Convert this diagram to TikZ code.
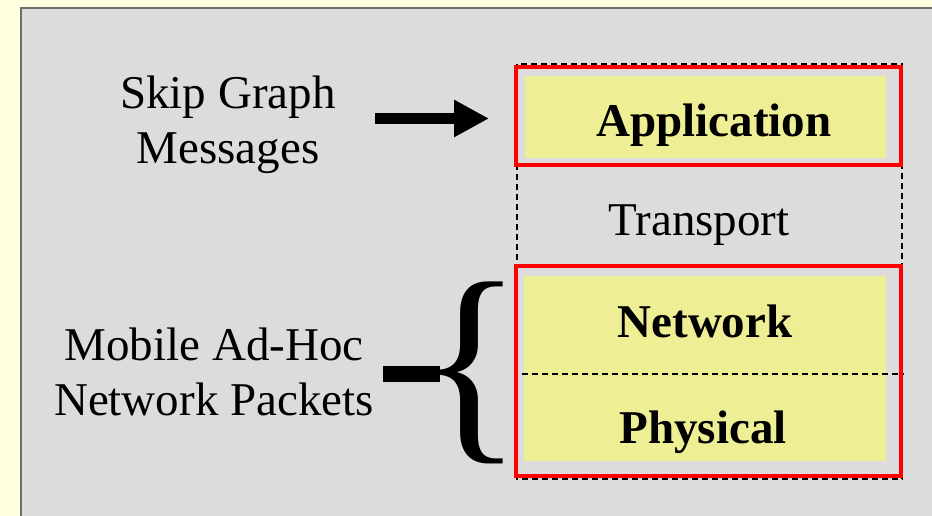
\documentclass[tikz,border=0pt]{standalone}
\usepackage{fontspec}
\setmainfont{Liberation Serif}
\usetikzlibrary{arrows.meta}
\definecolor{pagebg}{RGB}{255,255,224}
\definecolor{panelbg}{RGB}{220,220,220}
\definecolor{panelline}{RGB}{110,110,104}
\definecolor{layerfill}{RGB}{238,238,148}
\definecolor{redline}{RGB}{255,0,0}
\tikzset{
  bigtext/.style={font=\fontsize{47}{55}\selectfont, inner sep=0pt, anchor=base, align=center},
  boldtext/.style={bigtext, font=\fontsize{47}{55}\selectfont\bfseries},
  redbox/.style={draw=redline, line width=4pt},
  yellowfill/.style={fill=layerfill, draw=none},
  dashline/.style={draw=black, line width=1.2pt, dash pattern=on 6pt off 4pt},
}
\begin{document}
\begin{tikzpicture}[x=1pt,y=-1pt]
\useasboundingbox (0,0) rectangle (932,516);
\fill[pagebg] (0,0) rectangle (932,516);
\fill[panelbg] (20,7) rectangle (932,516);
\draw[panelline, line width=2pt] (21,516) -- (21,8) -- (932,8);

% yellow fills
\fill[yellowfill] (525,76) rectangle (886,158);
\fill[yellowfill] (524,276) rectangle (886,461);

% dashed stack outline
\draw[dashline] (517,64) rectangle (902,479);
\draw[dashline] (522,374) -- (904,374);

% red boxes
\node[redbox, minimum width=385pt, minimum height=98pt, inner sep=0pt] (app) at (708.5,116) {};
\node[redbox, minimum width=385pt, minimum height=210pt, inner sep=0pt] (lower) at (708.5,371) {};

% layer labels
\node[boldtext] (application) at (714,137) {Application};
\node[bigtext] (transport) at (699,235) {Transport};
\node[boldtext] (network) at (705,337) {Network};
\node[boldtext] (physical) at (703,443) {Physical};

% left labels
\node[bigtext] (skip) at (228,164) {Skip Graph\\Messages};
\node[bigtext] (manet) at (214,415) {Mobile Ad-Hoc\\Network Packets};

% arrow
\coordinate (arrS) at (375,118.5);
\coordinate (arrE) at (489,118.5);
\draw[line width=11pt, -{Triangle[length=35pt, width=35pt]}] (arrS) -- (arrE);

% bar and brace
\coordinate (barS) at (383,374);
\coordinate (barE) at (440,374);
\draw[line width=16pt] (barS) -- (barE);
\node[inner sep=0pt, font=\fontsize{220}{220}\selectfont] (brace) at (470,373) {\{};
\end{tikzpicture}
\end{document}
